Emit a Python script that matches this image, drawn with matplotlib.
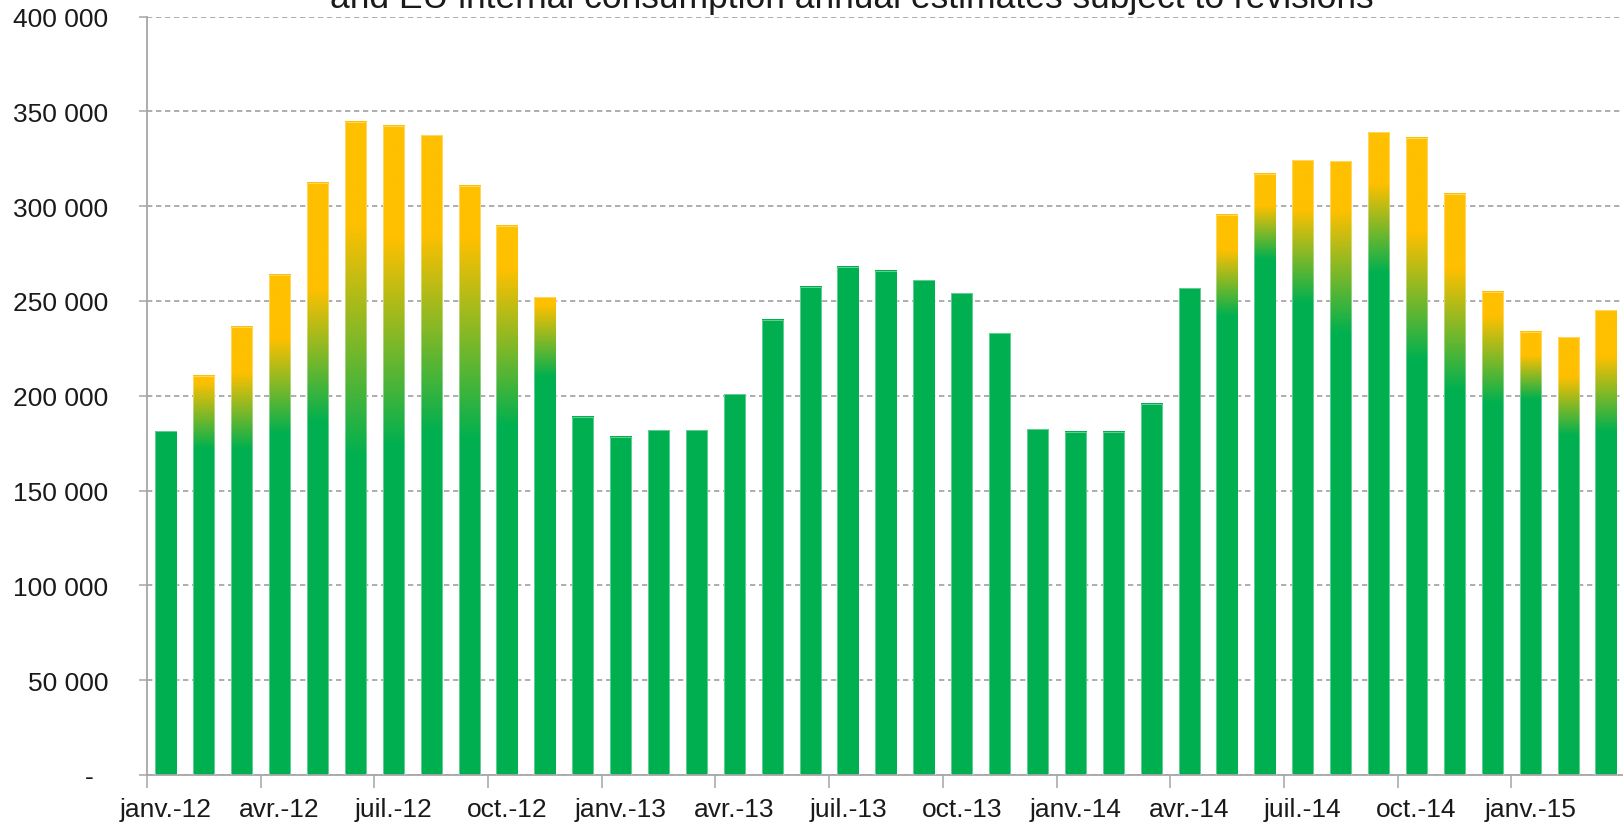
import numpy as np
import matplotlib
matplotlib.use("Agg")
import matplotlib.pyplot as plt
from matplotlib.ticker import FuncFormatter, FixedLocator
from matplotlib.colors import to_rgb

plt.rcParams['font.family'] = ['Liberation Sans', 'DejaVu Sans']

# ---------------- data ----------------
months = ["janv.-12", "févr.-12", "mars-12", "avr.-12", "mai-12", "juin-12",
          "juil.-12", "août-12", "sept.-12", "oct.-12", "nov.-12", "déc.-12",
          "janv.-13", "févr.-13", "mars-13", "avr.-13", "mai-13", "juin-13",
          "juil.-13", "août-13", "sept.-13", "oct.-13", "nov.-13", "déc.-13",
          "janv.-14", "févr.-14", "mars-14", "avr.-14", "mai-14", "juin-14",
          "juil.-14", "août-14", "sept.-14", "oct.-14", "nov.-14", "déc.-14",
          "janv.-15", "févr.-15", "mars-15"]

values = [181200, 210500, 236400, 263800, 312200, 344500,
          342400, 337500, 310800, 289700, 251900, 188800,
          178400, 181700, 181700, 200700, 240100, 257500,
          268000, 265900, 261000, 254000, 232900, 182400,
          181000, 181000, 195800, 256800, 295500, 317100,
          324100, 323600, 338900, 336100, 306500, 254800,
          233700, 230800, 245000]

# level up to which each bar is pure green, and level from which it is pure yellow
green_to = [None, 172000, 172000, 180000, 186000, 168000,
            174000, 181000, 177000, 184000, 210000, None,
            None, None, None, None, None, None,
            None, None, None, None, None, None,
            None, None, None, None, 242000, 272000,
            249000, 233000, 265000, 219000, 203000, 196000,
            198000, 179000, 181000]
yellow_from = [None, 207000, 212000, 230000, 256000, 290000,
               283000, 286000, 283000, 267000, 248000, None,
               None, None, None, None, None, None,
               None, None, None, None, None, None,
               None, None, None, None, 277000, 300000,
               298000, 298000, 312000, 286000, 267000, 242000,
               221000, 210000, 221000]

tick_labels = ["janv.-12", "avr.-12", "juil.-12", "oct.-12", "janv.-13",
               "avr.-13", "juil.-13", "oct.-13", "janv.-14", "avr.-14",
               "juil.-14", "oct.-14", "janv.-15"]

title = "and EU internal consumption annual estimates subject to revisions"

# ---------------- figure ----------------
W, H = 1624, 829
fig = plt.figure(figsize=(W / 100, H / 100), dpi=100)
left_px, right_px, top_px, bottom_px = 147, 1625, 17.5, 776
ax = fig.add_axes([left_px / W, (H - bottom_px) / H,
                   (right_px - left_px) / W, (bottom_px - top_px) / H])

GREEN = np.array(to_rgb("#00B050"))
YELLOW = np.array(to_rgb("#FFC000"))

x = np.arange(len(values))
bars = ax.bar(x, values, width=0.56, facecolor="none",
              edgecolor=(1, 1, 1, 0.45), linewidth=0.6, zorder=3)

for rect, v, g, yf in zip(bars, values, green_to, yellow_from):
    x0 = rect.get_x()
    w = rect.get_width()
    ys = np.linspace(0, v, 600)
    if g is None:
        t = np.zeros_like(ys)
    else:
        t = np.clip((ys - g) / (yf - g), 0, 1)
    col = GREEN[None, :] * (1 - t)[:, None] + YELLOW[None, :] * t[:, None]
    img = col[:, None, :]
    ax.imshow(img, extent=[x0, x0 + w, 0, v], origin="lower",
              aspect="auto", interpolation="bilinear", zorder=2)

ax.set_xlim(-0.5, len(values) - 0.5)
ax.set_ylim(0, 400000)

# y axis
ax.set_yticks(np.arange(0, 400001, 50000))
def yfmt(v, pos):
    if v == 0:
        return "-  "
    return f"{int(v):,}".replace(",", " ")
ax.yaxis.set_major_formatter(FuncFormatter(yfmt))
ax.yaxis.grid(True, linestyle=(0, (3.2, 2.2)), color="#A0A0A0", linewidth=1.2)
ax.set_axisbelow(True)
ax.tick_params(axis="y", direction="out", length=6, width=1.1,
               color="#A6A6A6", labelsize=19, pad=22, labelcolor="#1a1a1a")

# x axis: ticks between quarters, labels centred under bars
ax.xaxis.set_major_locator(FixedLocator(np.arange(-0.5, len(values), 3)))
ax.xaxis.set_major_formatter(FuncFormatter(lambda v, p: ""))
ax.xaxis.set_minor_locator(FixedLocator(np.arange(0, len(values), 3)[:len(tick_labels)]))
ax.set_xticklabels(tick_labels, minor=True)
ax.tick_params(axis="x", which="major", direction="out", length=9, width=1.1,
               color="#A6A6A6")
ax.tick_params(axis="x", which="minor", length=0, labelsize=19, pad=16,
               labelcolor="#1a1a1a")

for s in ["top", "right"]:
    ax.spines[s].set_visible(False)
for s in ["left", "bottom"]:
    ax.spines[s].set_color("#A6A6A6")
    ax.spines[s].set_linewidth(1.3)

fig.text(852 / W, 1 - 8.0 / H, title, ha="center", va="baseline",
         fontsize=25.5, color="#1a1a1a")

fig.savefig("out.png", dpi=100)
